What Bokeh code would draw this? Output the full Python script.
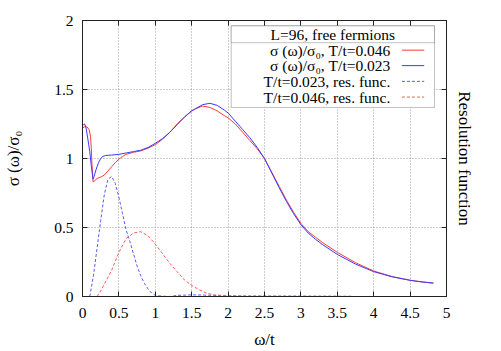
from bokeh.plotting import figure
from bokeh.models import Range1d, LinearAxis, FixedTicker, Label, BoxAnnotation
from bokeh.embed import file_html
from bokeh.resources import INLINE

# ---------------- data ----------------
omega_red = [0.0, 0.03, 0.06, 0.09, 0.11, 0.12, 0.13, 0.145, 0.17, 0.2, 0.25, 0.3, 0.35,
             0.4, 0.45, 0.5, 0.55, 0.6, 0.7, 0.8, 0.9, 1.0, 1.1, 1.2, 1.3, 1.4, 1.5,
             1.55, 1.65, 1.75, 1.85, 1.95, 2.0, 2.1, 2.2, 2.3, 2.4, 2.5, 2.6, 2.7, 2.8,
             2.9, 3.0, 3.1, 3.2, 3.3, 3.4, 3.5, 3.75, 4.0, 4.25, 4.5, 4.65, 4.82]
sigma_red = [1.22, 1.23, 1.23, 1.21, 1.16, 1.08, 0.96, 0.83, 0.84, 0.855, 0.865, 0.88, 0.91,
             0.94, 0.97, 0.995, 1.015, 1.03, 1.045, 1.055, 1.075, 1.10, 1.14, 1.19, 1.25, 1.30, 1.345,
             1.36, 1.38, 1.37, 1.345, 1.31, 1.295, 1.25, 1.19, 1.13, 1.07, 1.0, 0.90, 0.80, 0.70,
             0.61, 0.53, 0.47, 0.43, 0.39, 0.355, 0.32, 0.245, 0.185, 0.145, 0.118, 0.107, 0.097]

omega_blue = [0.0, 0.03, 0.05, 0.08, 0.1, 0.12, 0.145, 0.16, 0.18, 0.2, 0.22, 0.25, 0.28,
              0.32, 0.4, 0.5, 0.6, 0.7, 0.8, 0.9, 1.0, 1.1, 1.2, 1.3, 1.4, 1.5, 1.55,
              1.65, 1.75, 1.85, 1.95, 2.0, 2.1, 2.2, 2.3, 2.4, 2.5, 2.6, 2.7, 2.8, 2.9,
              3.0, 3.1, 3.2, 3.3, 3.4, 3.5, 3.75, 4.0, 4.25, 4.5, 4.65, 4.82]
sigma_blue = [1.24, 1.25, 1.22, 1.12, 1.05, 0.95, 0.85, 0.87, 0.91, 0.94, 0.97, 1.0, 1.015,
              1.022, 1.025, 1.03, 1.04, 1.05, 1.06, 1.08, 1.11, 1.145, 1.19, 1.245, 1.30, 1.345, 1.36,
              1.39, 1.40, 1.385, 1.35, 1.33, 1.27, 1.21, 1.15, 1.08, 1.0, 0.895, 0.79, 0.69, 0.60,
              0.52, 0.46, 0.415, 0.375, 0.34, 0.305, 0.235, 0.18, 0.143, 0.117, 0.106, 0.097]

omega_res_blue = [0.10, 0.15, 0.2, 0.25, 0.3, 0.35, 0.4, 0.45, 0.5, 0.55, 0.6, 0.65, 0.7,
                  0.75, 0.8, 0.85, 0.9, 0.95, 1.0, 1.1, 1.2, 1.3, 1.5, 1.7, 1.9, 2.2, 2.6,
                  3.0, 3.4, 3.7]
res_blue = [0.0, 0.15, 0.35, 0.55, 0.74, 0.85, 0.87, 0.82, 0.72, 0.60, 0.48, 0.40, 0.31,
            0.22, 0.15, 0.095, 0.055, 0.025, 0.008, 0.002, 0.0, 0.008, 0.012, 0.010, 0.006, 0.003, 0.002,
            0.002, 0.001, 0.001]

omega_res_red = [0.2, 0.25, 0.3, 0.35, 0.4, 0.5, 0.6, 0.7, 0.8, 0.9, 1.0, 1.1, 1.2, 1.3,
                 1.4, 1.5, 1.6, 1.7, 1.8, 2.0, 2.3, 2.7, 3.1, 3.4, 3.7]
res_red = [0.0, 0.04, 0.09, 0.14, 0.19, 0.32, 0.42, 0.46, 0.47, 0.44, 0.38, 0.31, 0.24, 0.18,
           0.12, 0.08, 0.05, 0.025, 0.012, 0.005, 0.003, 0.003, 0.002, 0.002, 0.001]

x_ticks = [0, 0.5, 1, 1.5, 2, 2.5, 3, 3.5, 4, 4.5, 5]
x_tick_labels = ["0", "0.5", "1", "1.5", "2", "2.5", "3", "3.5", "4", "4.5", "5"]
y_ticks = [0, 0.5, 1, 1.5, 2]
y_tick_labels = ["0", "0.5", "1", "1.5", "2"]

legend_title = "L=96, free fermions"
legend_labels = ["σ (ω)/σ₀, T/t=0.046", "σ (ω)/σ₀, T/t=0.023",
                 "T/t=0.023, res. func.", "T/t=0.046, res. func."]

# ---------------- styles ----------------
FONT = "Liberation Serif"
RED = "#ff3a3a"
BLUE = "#3a3aff"
RED_D = "#ff5a5a"
BLUE_D = "#5a5aff"

p = figure(width=501, height=351, x_range=Range1d(0, 5), y_range=Range1d(0, 2),
           output_backend="svg", toolbar_location=None,
           min_border_left=82, min_border_right=55, min_border_top=20, min_border_bottom=54)
p.background_fill_color = "white"
p.border_fill_color = "white"
p.outline_line_color = "#222222"

# grid
for g, t in ((p.xgrid, x_ticks), (p.ygrid, y_ticks)):
    g.ticker = FixedTicker(ticks=t)
    g.grid_line_color = "#9a9a9a"
    g.grid_line_dash = "1 2"
    g.grid_line_width = 1

def style_axis(ax, ticks, labels, show_labels=True):
    ax.ticker = FixedTicker(ticks=ticks)
    ax.major_label_overrides = {t: (l if show_labels else "") for t, l in zip(ticks, labels)}
    ax.major_tick_in = 5
    ax.major_tick_out = 0
    ax.minor_tick_in = 0
    ax.minor_tick_out = 0
    ax.axis_line_color = "#222222"
    ax.major_tick_line_color = "#222222"
    ax.major_label_text_font = FONT
    ax.major_label_text_font_size = "15.5px" if show_labels else "0px"
    ax.major_label_text_color = "black"
    ax.axis_label_text_font = FONT
    ax.axis_label_text_font_style = "normal"
    ax.axis_label_text_color = "black"
    ax.axis_label_text_font_size = "17px"

# left axis
yl = p.yaxis[0]
style_axis(yl, y_ticks, y_tick_labels)
yl.major_label_standoff = 9
yl.axis_label = "σ (ω)/σ₀"
yl.axis_label_standoff = 28

# bottom axis
xb = p.xaxis[0]
style_axis(xb, x_ticks, x_tick_labels)
xb.major_label_standoff = 11
xb.axis_label = "ω/t"
xb.axis_label_standoff = 9

# right axis
yr = LinearAxis()
style_axis(yr, y_ticks, y_tick_labels, show_labels=False)
yr.major_label_standoff = 0
yr.axis_label = "Resolution function"
yr.axis_label_standoff = 8
p.add_layout(yr, "right")

# top axis
xt = LinearAxis()
style_axis(xt, x_ticks, x_tick_labels, show_labels=False)
xt.major_label_standoff = 0
p.add_layout(xt, "above")

# curves
p.line(omega_red, sigma_red, line_color=RED, line_width=1)
p.line(omega_blue, sigma_blue, line_color=BLUE, line_width=1)
p.line(omega_res_blue, res_blue, line_color=BLUE_D, line_width=1, line_dash="3 2")
p.line(omega_res_red, res_red, line_color=RED_D, line_width=1, line_dash="3 2")

# ---------------- legend (layout constants) ----------------
LG_LEFT, LG_RIGHT, LG_TOP, LG_BOTTOM = 2.043, 4.835, 1.961, 1.370
LG_SEP = 1.839
LG_TITLE_Y = 1.900
LG_ROWS_Y = [1.785, 1.673, 1.559, 1.445]
LG_TEXT_X = 4.228
LG_KEY_X0, LG_KEY_X1 = 4.388, 4.694

p.add_layout(BoxAnnotation(left=LG_LEFT, right=LG_RIGHT, top=LG_TOP, bottom=LG_BOTTOM,
                           fill_color="white", fill_alpha=1.0,
                           line_color="#333333", line_width=1))
p.add_layout(BoxAnnotation(left=LG_LEFT, right=LG_RIGHT, top=LG_TOP, bottom=LG_SEP,
                           fill_color="white", fill_alpha=1.0,
                           line_color="#333333", line_width=1))
p.add_layout(Label(x=(LG_LEFT + LG_RIGHT) / 2, y=LG_TITLE_Y, text=legend_title,
                   text_align="center", text_baseline="middle",
                   text_font=FONT, text_font_size="15.5px", text_color="black"))
key_styles = [(RED, None), (BLUE, None), (BLUE_D, "3 2"), (RED_D, "3 2")]
for yy, lab, (col, dash) in zip(LG_ROWS_Y, legend_labels, key_styles):
    p.add_layout(Label(x=LG_TEXT_X, y=yy, text=lab, text_align="right",
                       text_baseline="middle", text_font=FONT,
                       text_font_size="15.5px", text_color="black"))
    kw = dict(line_color=col, line_width=1)
    if dash:
        kw["line_dash"] = dash
    r = p.segment(x0=[LG_KEY_X0], y0=[yy], x1=[LG_KEY_X1], y1=[yy], **kw)
    r.level = "overlay"

open("out.html", "w").write(file_html(p, INLINE))
